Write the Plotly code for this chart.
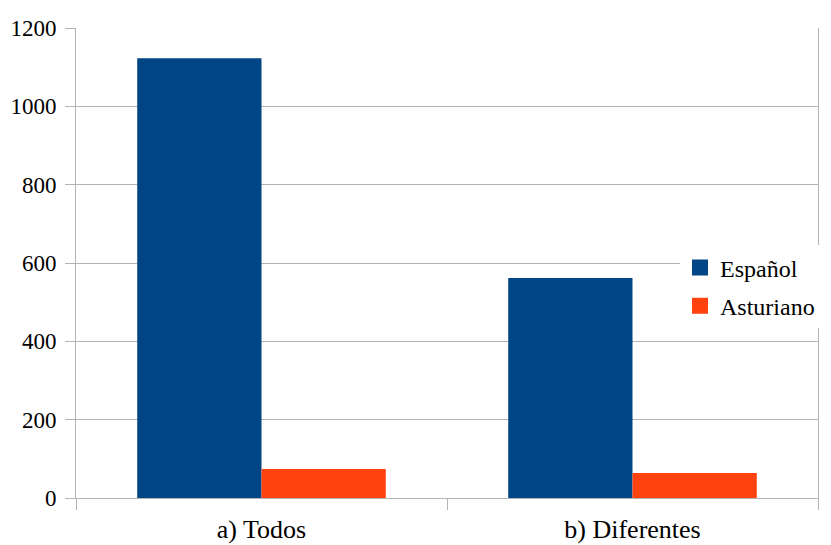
import plotly.graph_objects as go

categories = ["a) Todos", "b) Diferentes"]
espanol = [1123, 562]
asturiano = [74, 64]
y_ticks = [0, 200, 400, 600, 800, 1000, 1200]

font = "Liberation Serif"
blue = "#004586"
orange = "#ff420e"
grid = "#b3b3b3"

fig = go.Figure()
fig.add_trace(go.Bar(name="Español", x=categories, y=espanol, marker_color=blue,
                     marker_line_width=0, showlegend=False))
fig.add_trace(go.Bar(name="Asturiano", x=categories, y=asturiano, marker_color=orange,
                     marker_line_width=0, showlegend=False))
# legend-only entries with larger square symbols
for name, col in [("Español", blue), ("Asturiano", orange)]:
    fig.add_trace(go.Scatter(name=name, x=[None], y=[None], mode="markers",
                             marker=dict(symbol="square", size=16, color=col),
                             legendgroup=name, showlegend=True))

fig.update_layout(
    template="none",
    width=823, height=537,
    margin=dict(l=68, r=13, t=20, b=47, autoexpand=False),
    paper_bgcolor="white", plot_bgcolor="white",
    barmode="group", bargap=0.33, bargroupgap=0,
    font=dict(family=font, size=26, color="black"),
    legend=dict(x=0.814, y=0.449, xanchor="left", yanchor="middle",
                bgcolor="white", font=dict(family=font, size=24, color="black"),
                tracegroupgap=4, itemwidth=30, borderwidth=0),
)
fig.update_xaxes(
    showline=True, linecolor=grid, linewidth=1,
    ticks="outside", tickson="boundaries", ticklen=11, tickcolor=grid,
    showgrid=False, zeroline=False, tickfont=dict(family=font, size=26, color="black"),
    ticklabelstandoff=8,
)
fig.update_yaxes(
    range=[0, 1200], tickvals=y_ticks,
    showline=True, linecolor=grid, linewidth=1, mirror=True,
    ticks="outside", ticklen=10, tickcolor=grid,
    showgrid=True, gridcolor=grid, gridwidth=1, zeroline=False,
    tickfont=dict(family=font, size=23, color="black"), ticklabelstandoff=4,
)
fig.write_html("out.html")
